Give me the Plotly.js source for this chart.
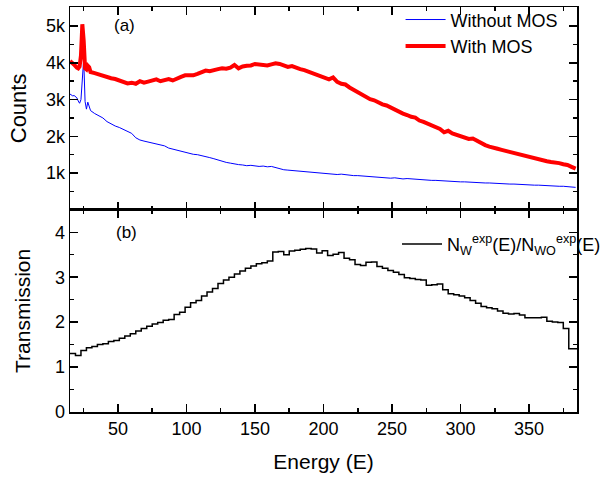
<!DOCTYPE html>
<html>
<head>
<meta charset="utf-8">
<script src="https://cdn.plot.ly/plotly-3.0.1.min.js"></script>
<style>html,body{margin:0;padding:0;background:#fff;}#chart{width:607px;height:482px;}</style>
</head>
<body>
<div id="chart"></div>
<script>
// ---- Data ----
const energyTop = [15,16,17,18,19,20,21,22,23,24,25,26,27,28,29,30,
  33,36,39,42,45,48,51,54,57,60,63,66,69,72,75,78,81,84,87,90,93,96,99,102,105,108,111,114,117,120,
  123,126,129,132,135,138,141,144,147,150,153,156,159,162,165,168,171,174,177,180,183,186,189,192,195,198,
  201,204,207,210,213,216,219,222,225,228,231,234,237,240,243,246,249,252,255,258,261,264,267,270,273,276,
  279,282,285,288,291,294,297,300,303,306,309,312,315,318,321,324,327,330,333,336,339,342,345,348,351,354,
  357,360,363,366,369,372,375,378,381,384];

const withoutMOS = [3150,3120,3100,3110,3080,3050,2960,2900,3000,3700,4100,2950,2740,2930,2800,2700,
  2620,2560,2500,2400,2330,2280,2240,2190,2150,2080,1960,1900,1870,1840,1810,1790,1770,1740,1680,1650,1630,1600,1560,1530,1510,1500,1480,1450,1420,1390,
  1350,1320,1290,1270,1240,1230,1220,1200,1210,1190,1180,1190,1170,1180,1150,1110,1090,1080,1070,1060,1050,1040,1030,1030,1010,1000,
  990,990,970,960,970,950,950,930,930,920,910,900,890,880,880,870,860,870,850,840,850,840,830,820,820,810,
  800,800,790,790,780,780,770,760,760,750,750,740,740,730,730,720,720,710,700,700,700,690,690,680,680,670,
  670,660,660,650,650,640,640,630,620,610];

const withMOS = [4050,4000,3980,3950,3900,3870,3850,3900,4200,5050,4600,3850,3820,3920,3880,3750,
  3720,3680,3640,3600,3580,3560,3520,3470,3440,3460,3430,3500,3460,3490,3520,3550,3500,3540,3560,3520,3580,3620,3660,3670,3660,3700,3760,3790,3770,3810,
  3830,3850,3840,3870,3940,3850,3900,3920,3930,3970,3960,3950,3930,3960,3990,3970,3920,3890,3910,3860,3830,3800,3760,3720,3680,3640,
  3590,3550,3600,3480,3430,3410,3330,3260,3210,3130,3060,3010,2980,2920,2870,2840,2780,2740,2690,2620,2580,2530,2510,2430,2390,2340,
  2310,2260,2200,2110,2150,2080,2040,1990,1960,1930,1940,1870,1810,1760,1720,1700,1660,1630,1600,1570,1550,1520,1500,1470,1430,1410,
  1380,1340,1320,1300,1290,1270,1240,1220,1170,1120];

const energyBins = [15,19,23,27,31,35,39,43,47,51,55,59,63,67,71,75,79,83,87,91,95,99,103,107,111,115,119,123,127,131,
  135,139,143,147,151,155,159,163,167,171,175,179,183,187,191,195,199,203,207,211,215,219,223,227,231,235,239,243,247,251,
  255,259,263,267,271,275,279,283,287,291,295,299,303,307,311,315,319,323,327,331,335,339,343,347,351,355,359,363,367,371,
  375,379,383,385];

const transmission = [1.30,1.26,1.37,1.43,1.46,1.50,1.52,1.57,1.59,1.64,1.69,1.74,1.80,1.86,1.91,1.96,1.99,2.04,2.06,2.17,2.22,2.33,2.43,2.48,2.58,2.67,2.75,2.86,2.94,3.00,
  3.07,3.14,3.20,3.25,3.30,3.32,3.36,3.56,3.57,3.50,3.58,3.60,3.62,3.64,3.63,3.54,3.59,3.48,3.51,3.55,3.42,3.39,3.28,3.26,3.33,3.34,3.24,3.20,3.15,3.11,
  3.06,2.99,2.97,2.95,2.94,2.82,2.83,2.85,2.72,2.63,2.61,2.58,2.54,2.48,2.42,2.35,2.32,2.30,2.25,2.20,2.18,2.19,2.16,2.10,2.10,2.10,2.11,2.02,2.00,1.99,
  1.86,1.41,1.41,1.41];

const countTicks = [1000,2000,3000,4000,5000];
const countTickText = ['1k','2k','3k','4k','5k'];

// ---- Chart ----
const FONT = 'Arial, "Liberation Sans", sans-serif';
const traces = [
  {x: energyTop, y: withoutMOS, xaxis: 'x2', yaxis: 'y2', type: 'scatter', mode: 'lines',
   name: 'Without MOS', line: {color: '#0000ff', width: 1}, legend: 'legend'},
  {x: energyTop, y: withMOS, xaxis: 'x2', yaxis: 'y2', type: 'scatter', mode: 'lines',
   name: 'With MOS', line: {color: '#ff0000', width: 4}, legend: 'legend'},
  {x: energyBins, y: transmission, xaxis: 'x', yaxis: 'y', type: 'scatter', mode: 'lines',
   name: 'N<sub>W</sub><sup>exp</sup>(E)/N<sub>WO</sub><sup>exp</sup>(E)',
   line: {color: '#000000', width: 1.5, shape: 'hv'}, legend: 'legend2'}
];

const axisCommon = {
  showline: true, linecolor: '#000', linewidth: 1.5, mirror: 'ticks',
  ticks: 'inside', ticklen: 8, tickwidth: 1.5, tickcolor: '#000',
  showgrid: false, zeroline: false,
  tickfont: {family: FONT, size: 18, color: '#000'}
};

const split = 0.4993;
const layout = {
  width: 607, height: 482,
  margin: {l: 70, r: 1, t: 6, b: 70},
  paper_bgcolor: '#fff', plot_bgcolor: '#fff',
  font: {family: FONT, color: '#000'},
  xaxis: Object.assign({}, axisCommon, {
    domain: [0, 1], anchor: 'y', range: [15, 385], tick0: 0, dtick: 50,
    minor: {dtick: 25, ticks: 'inside', ticklen: 4, tickwidth: 1.5, tickcolor: '#000'},
    title: {text: 'Energy (E)', font: {family: FONT, size: 21, color: '#000'}, standoff: 16}
  }),
  xaxis2: Object.assign({}, axisCommon, {
    domain: [0, 1], anchor: 'y2', matches: 'x', range: [15, 385], tick0: 0, dtick: 50,
    showticklabels: false,
    minor: {dtick: 25, ticks: 'inside', ticklen: 4, tickwidth: 1.5, tickcolor: '#000'}
  }),
  yaxis: Object.assign({}, axisCommon, {
    domain: [0, split], anchor: 'x', range: [0, 4.5], tick0: 0, dtick: 1,
    minor: {dtick: 0.5, ticks: 'inside', ticklen: 4, tickwidth: 1.5, tickcolor: '#000'},
    title: {text: 'Transmission', font: {family: FONT, size: 21, color: '#000'}, standoff: 18}
  }),
  yaxis2: Object.assign({}, axisCommon, {
    domain: [split, 1], anchor: 'x2', range: [0, 5520],
    tickmode: 'array', tickvals: countTicks, ticktext: countTickText,
    minor: {tickmode: 'linear', tick0: 0, dtick: 500, ticks: 'inside', ticklen: 4, tickwidth: 1.5, tickcolor: '#000'},
    title: {text: 'Counts', font: {family: FONT, size: 22, color: '#000'}, standoff: 13}
  }),
  legend: {
    x: 0.652, y: 1.014, xanchor: 'left', yanchor: 'top',
    bgcolor: 'rgba(0,0,0,0)', borderwidth: 0,
    font: {family: FONT, size: 18, color: '#000'},
    tracegroupgap: 0, itemwidth: 40
  },
  legend2: {
    x: 0.645, y: 0.414, xanchor: 'left', yanchor: 'middle',
    bgcolor: 'rgba(0,0,0,0)', borderwidth: 0,
    font: {family: FONT, size: 18, color: '#000'}, itemwidth: 40
  },
  annotations: [
    {text: '(a)', xref: 'paper', yref: 'paper', x: 0.108, y: 0.955, showarrow: false,
     xanchor: 'center', yanchor: 'middle', font: {family: FONT, size: 17, color: '#000'}},
    {text: '(b)', xref: 'paper', yref: 'paper', x: 0.112, y: 0.443, showarrow: false,
     xanchor: 'center', yanchor: 'middle', font: {family: FONT, size: 17, color: '#000'}}
  ],
  showlegend: true
};

Plotly.newPlot('chart', traces, layout, {displayModeBar: false, staticPlot: true});
</script>
</body>
</html>
